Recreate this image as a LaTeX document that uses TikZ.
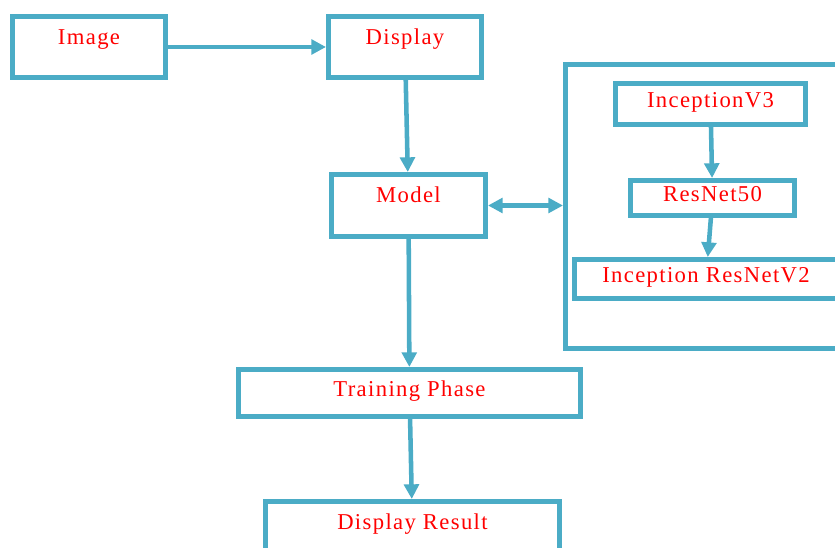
\documentclass[tikz,border=0pt]{standalone}
\usepackage{fontspec}
\setmainfont{Liberation Serif}[LetterSpace=6]
\usetikzlibrary{arrows.meta}
\definecolor{boxblue}{HTML}{4BACC6}

\begin{document}
\begin{tikzpicture}[
    x=0.75pt, y=-0.75pt,
    >={Triangle[width=11pt,length=11pt]},
    stepbox/.style={
        rectangle,
        draw=boxblue,
        line width=3.75pt,
        text=red,
        font=\fontsize{17}{20}\selectfont,
        inner sep=0pt,
        text height=11pt,
        text depth=5pt
    },
    raised/.style={
        text height=10pt,
        text depth=14.4pt
    },
    flow/.style={
        draw=boxblue,
        line width=3.4pt
    }
]
\useasboundingbox (0,0) rectangle (835,548);

% Main flow
\node[stepbox, raised, minimum width=114.75pt, minimum height=45.75pt] (image) at (89,47) {Image};
\node[stepbox, raised, minimum width=114.75pt, minimum height=45.75pt] (display) at (405,47) {Display};
\node[stepbox, raised, minimum width=115.5pt, minimum height=46.5pt] (model) at (408.5,205.5) {Model};
\node[stepbox, minimum width=256.5pt, minimum height=35.25pt] (training) at (409.5,393) {Training Phase};
\node[stepbox, raised, minimum width=220.5pt, minimum height=45.75pt] (result) at (412.5,532) {Display Result};

% Models
\node[stepbox, minimum width=211.5pt, minimum height=213pt] (models) at (706.5,206.5) {};
\node[stepbox, minimum width=142.5pt, minimum height=30.75pt] (v3) at (710.5,104) {InceptionV3};
\node[stepbox, minimum width=123pt, minimum height=26.25pt] (resnet) at (712.5,198) {ResNet50};
\node[stepbox, minimum width=197.25pt, minimum height=29.25pt] (v2) at (706,279) {Inception ResNetV2};

% Connections
\draw[flow, ->] (image) -- (display);
\draw[flow, ->] (display) -- (model);
\draw[flow, <->] (model.east) -- (model.east -| models.west);
\draw[flow, ->] (v3) -- (resnet);
\draw[flow, ->] (resnet) -- (v2);
\draw[flow, ->] (model) -- (training);
\draw[flow, ->] (training) -- (result);

\end{tikzpicture}
\end{document}
